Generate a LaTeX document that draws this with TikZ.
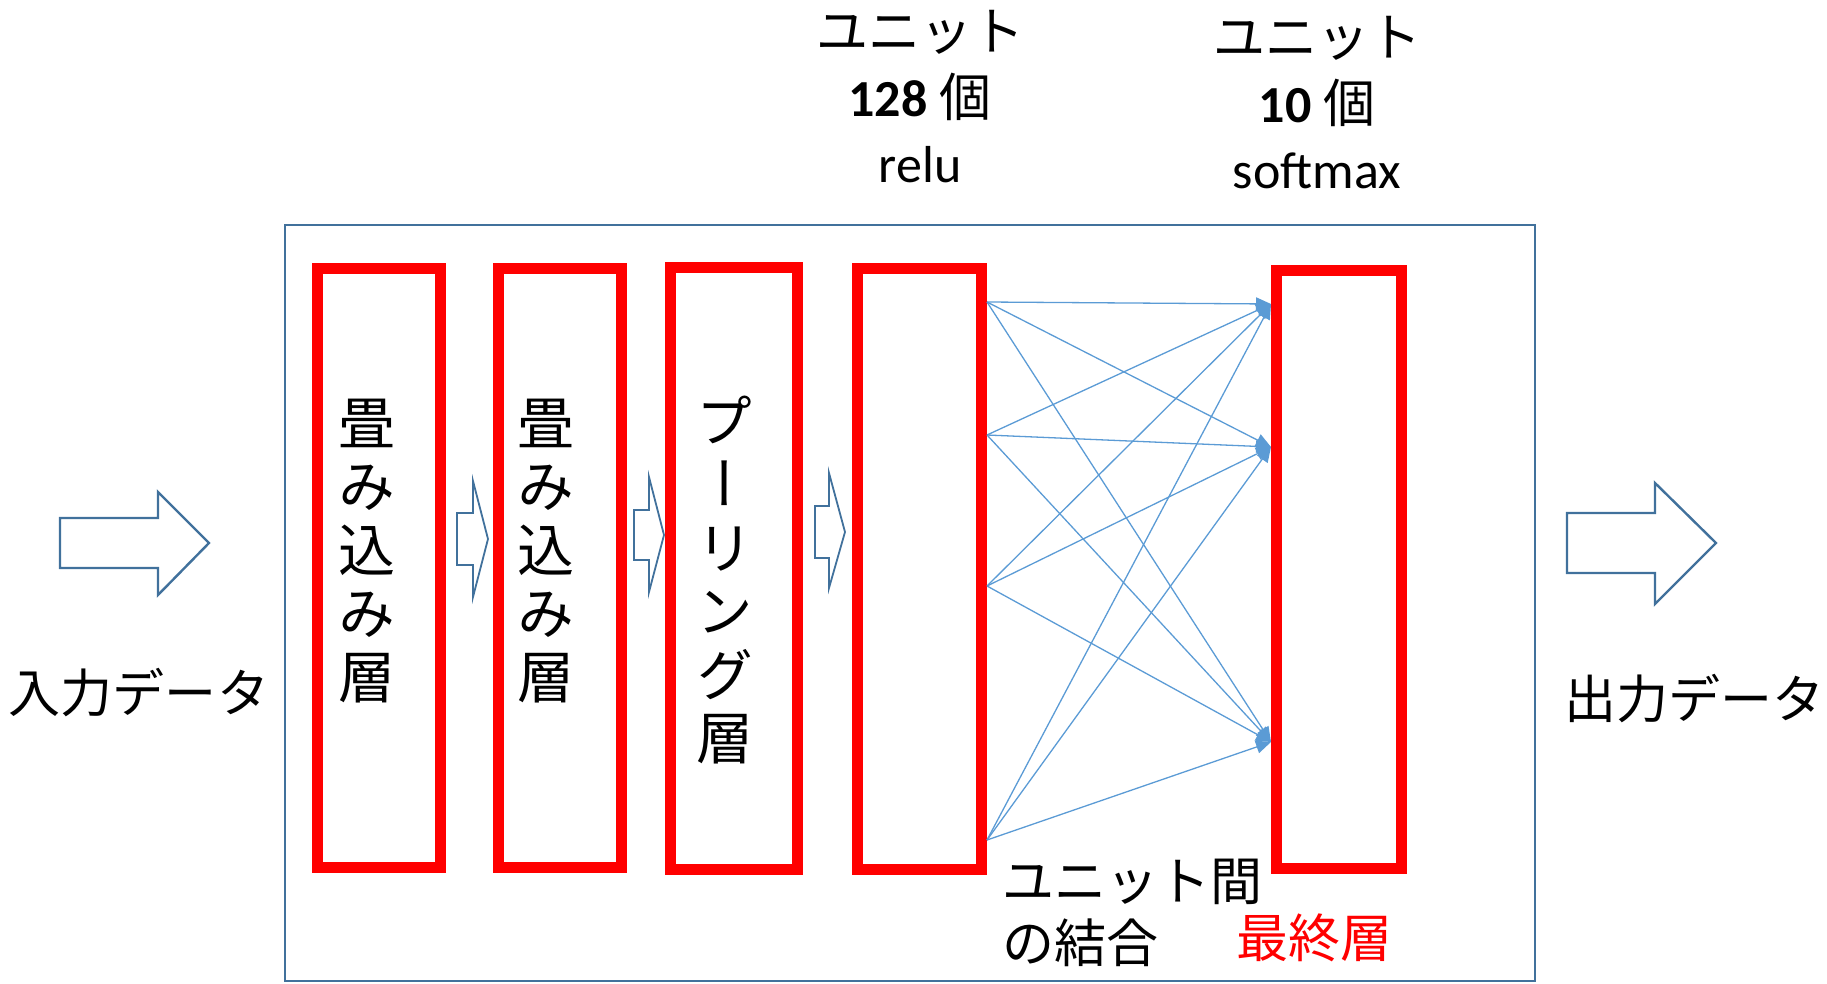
\documentclass[tikz,border=0pt]{standalone}
\usepackage{fontspec}
\setmainfont{Carlito}
\newfontfamily\jp{Noto Sans CJK JP}
\newfontfamily\jpv[RawFeature=+vert]{Noto Sans CJK JP}
\usetikzlibrary{arrows.meta}
\definecolor{frameblue}{HTML}{41719C}
\definecolor{linkblue}{HTML}{5B9BD5}
\begin{document}
\begin{tikzpicture}[x=1pt,y=-1pt,
  layerbox/.style={draw=red, line width=11pt, inner sep=0pt},
  vtext/.style={font=\jpv\fontsize{57}{63.5}\selectfont, align=center, inner sep=0pt},
  jtext/.style={font=\jp\fontsize{52}{62}\selectfont, inner sep=0pt},
  toplabel/.style={font=\fontsize{52}{66}\selectfont, align=center, inner sep=0pt},
  frame/.style={draw=frameblue, line width=2.2pt},
  blockarrow/.style={draw=frameblue, line width=2.4pt, line join=miter, fill=white},
  smallarrow/.style={draw=frameblue, line width=1.8pt, line join=miter, fill=white},
  link/.style={draw=linkblue, line width=1.3pt, -{Triangle[length=15pt,width=13pt]}}
]
\useasboundingbox (0,0) rectangle (1827,984);
% outer frame
\draw[frame] (285,225) rectangle (1535,981);
% layer boxes
\node[layerbox, minimum width=123pt, minimum height=599pt] (b1) at (379,568) {};
\node[layerbox, minimum width=123pt, minimum height=599pt] (b2) at (560,568) {};
\node[layerbox, minimum width=127pt, minimum height=602pt] (b3) at (734,568.5) {};
\node[layerbox, minimum width=124pt, minimum height=601pt] (b4) at (919.5,569) {};
\node[layerbox, minimum width=125pt, minimum height=598pt] (b5) at (1339,569.5) {};
% box texts
\node[vtext] (l1) at (367,551) {畳\\み\\込\\み\\層};
\node[vtext] (l2) at (546,551) {畳\\み\\込\\み\\層};
\node[vtext] (l3) at (725,580) {プ\\ー\\リ\\ン\\グ\\層};
% top labels
\node[toplabel] (u1) at (920,97) {{\jp ユニット}\\{\bfseries 128} {\jp 個}\\relu};
\node[toplabel] (u2) at (1317,103) {{\jp ユニット}\\{\bfseries 10} {\jp 個}\\softmax};
% side labels
\node[jtext] (in) at (139,693) {入力データ};
\node[jtext] (out) at (1694,699) {出力データ};
\node[jtext, align=left, anchor=west, font=\jp\fontsize{52}{62}\selectfont] (conn) at (1002,913) {ユニット間\\の結合};
\node[jtext, text=red] (last) at (1314,938) {最終層};
% big arrows
\draw[blockarrow] (60,518) -- (158,518) -- (158,492) -- (209,543) -- (158,595) -- (158,568) -- (60,568) -- cycle;
\draw[blockarrow] (1567,513) -- (1655,513) -- (1655,483) -- (1716,543) -- (1655,604) -- (1655,573) -- (1567,573) -- cycle;
% small arrows
\draw[smallarrow] (457,513) -- (473,513) -- (473,481) -- (488,539) -- (473,597) -- (473,565) -- (457,565) -- cycle;
\draw[smallarrow] (634,510) -- (649,510) -- (649,477) -- (664,535) -- (649,592) -- (649,560) -- (634,560) -- cycle;
\draw[smallarrow] (815,506) -- (829,506) -- (829,473) -- (845,532) -- (829,588) -- (829,558) -- (815,558) -- cycle;
% connection points
\coordinate (s1) at (987,302);
\coordinate (s2) at (987,435);
\coordinate (s3) at (987,586);
\coordinate (s4) at (987,840);
\coordinate (t1) at (1271,304);
\coordinate (t2) at (1271,447);
\coordinate (t3) at (1271,742);
\foreach \s in {s1,s2,s3,s4}{
  \foreach \t in {t1,t2,t3}{
    \draw[link] (\s) -- (\t);
  }
}
\end{tikzpicture}
\end{document}
